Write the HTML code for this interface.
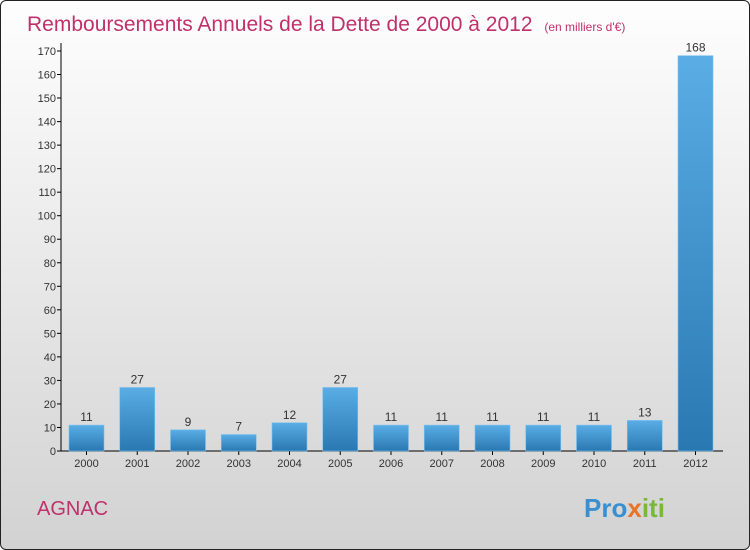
<!DOCTYPE html>
<html><head><meta charset="utf-8"><style>
body{margin:0;width:750px;height:550px;overflow:hidden;font-family:"Liberation Sans",sans-serif}
#wrap{position:absolute;left:0;top:0;width:748px;height:548px;border:1px solid #222;border-radius:6px;background:linear-gradient(#fefefe,#d2d2d2);overflow:hidden}
</style></head><body>
<div id="wrap">
<svg width="750" height="550" id="chart">
<defs><linearGradient id="bg" x1="0" y1="0" x2="0" y2="1"><stop offset="0" stop-color="#5aade5"/><stop offset="1" stop-color="#2a78b2"/></linearGradient></defs>
<text x="26" y="30" font-size="21" fill="#c0306a">Remboursements Annuels de la Dette de 2000 à 2012 <tspan font-size="12" dx="6">(en milliers d'€)</tspan></text>
<text x="36" y="514" font-size="20" fill="#c0306a">AGNAC</text>
<text x="583" y="516" font-size="26" font-weight="bold" fill="#3a8fd0">Pro<tspan fill="#e8742a">x</tspan><tspan fill="#7ab83a">iti</tspan></text>
<g id="axes"></g><g id="bars"></g>
</svg></div>
<script>
const years=["2000","2001","2002","2003","2004","2005","2006","2007","2008","2009","2010","2011","2012"];
const values=[11,27,9,7,12,27,11,11,11,11,11,13,168];
const ticks=[0,10,20,30,40,50,60,70,80,90,100,110,120,130,140,150,160,170];
const NS="http://www.w3.org/2000/svg";
const y0=450,yMax=170,yTop=50,x0=60;
const y=v=>y0-v*(y0-yTop)/yMax;
const xc=i=>85.5+i*50.75;
function mk(t,a,p){const e=document.createElementNS(NS,t);for(const k in a)e.setAttribute(k,a[k]);p.appendChild(e);return e;}
const ax=document.getElementById('axes'),bs=document.getElementById('bars');
const yl=mk('line',{x1:x0,y1:y0,x2:x0,y2:yTop-8,stroke:'#000'},ax);


const xl=mk('line',{x1:x0,y1:y0,x2:722,y2:y0,stroke:'#000'},ax);


ticks.forEach(t=>{
 mk('line',{x1:x0-4,y1:y(t),x2:x0,y2:y(t),stroke:'#000'},ax);
 const tx=mk('text',{x:x0-5,y:y(t)+4,'font-size':11,fill:'#333','text-anchor':'end'},ax);
 tx.textContent=t;
 
 
});
years.forEach((yr,i)=>{
 const v=values[i];
 const r=mk('rect',{x:xc(i)-17.5,y:y(v),width:35,height:y0-y(v),fill:'url(#bg)',stroke:'#7bc0ee','stroke-width':0.6},bs);
 
 
 mk('line',{x1:xc(i),y1:y0,x2:xc(i),y2:y0+4,stroke:'#000'},ax);
 const lt=mk('text',{x:xc(i),y:y(v)-4,'font-size':12,fill:'#333','text-anchor':'middle'},bs);
 lt.textContent=v;
 
 
 const xt=mk('text',{x:xc(i),y:466,'font-size':11,fill:'#333','text-anchor':'middle'},ax);
 xt.textContent=yr;
 
 
});
</script>
</body></html>
